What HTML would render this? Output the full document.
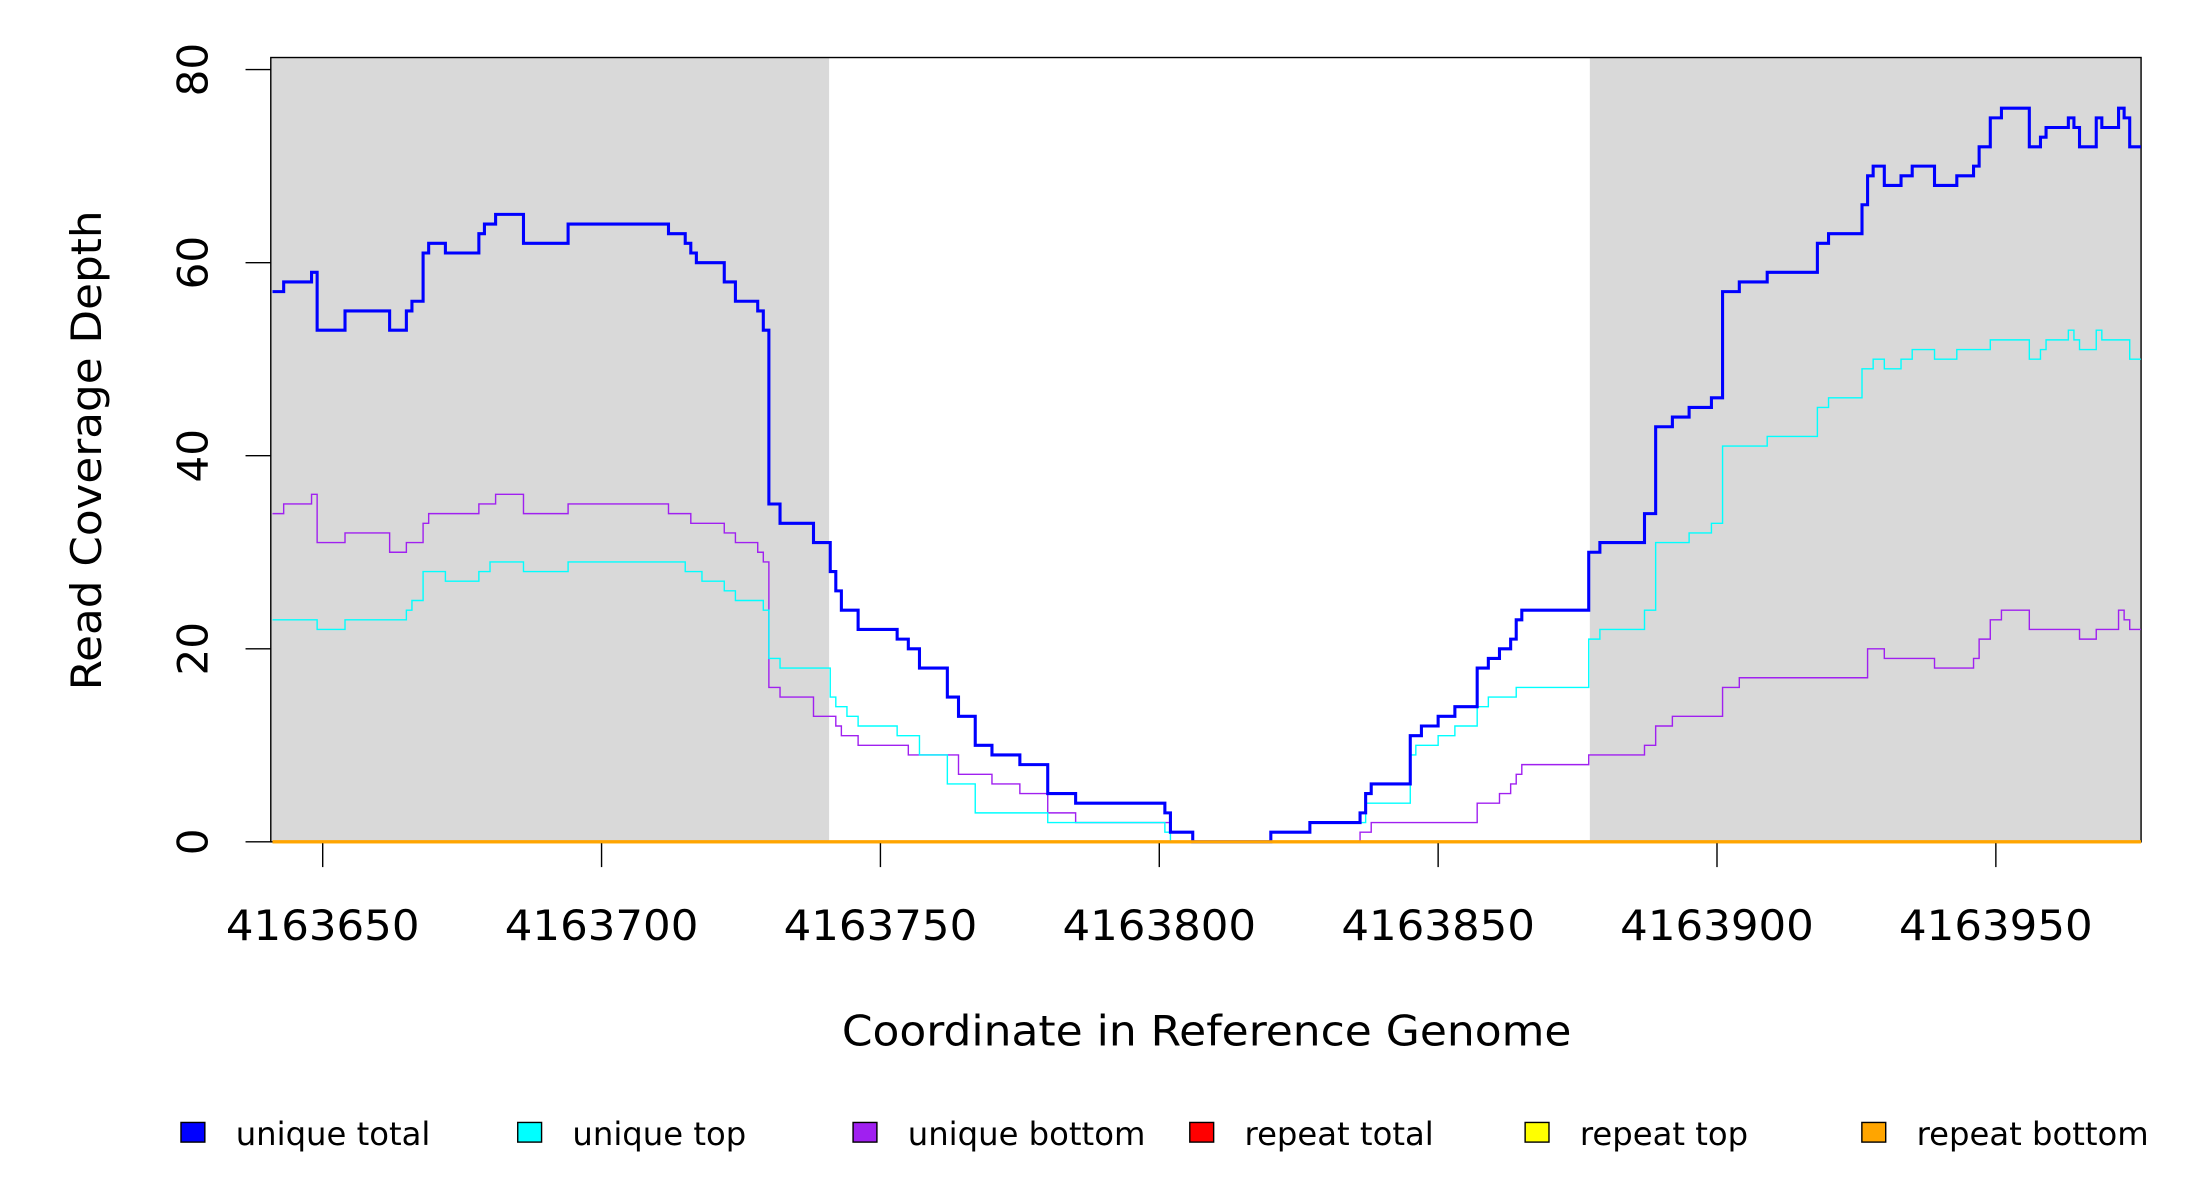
<!DOCTYPE html>
<html><head><meta charset="utf-8"><style>
html,body{margin:0;padding:0;background:#fff;}
svg{display:block;font-family:"DejaVu Sans","Liberation Sans",sans-serif;}
</style></head><body>
<svg id="chart" width="2200" height="1200" viewBox="0 0 1568 855.27" preserveAspectRatio="none" xmlns="http://www.w3.org/2000/svg">
<g id="bg"></g>
<rect x="193" y="41" width="1333" height="559" fill="none" stroke="#000" stroke-width="1"/>
<g id="series"></g>
<g id="axes"></g>
<text transform="translate(72,321) rotate(-90)" text-anchor="middle" font-size="30" textLength="342" lengthAdjust="spacingAndGlyphs">Read Coverage Depth</text>
<text x="860" y="745" text-anchor="middle" font-size="30" textLength="520" lengthAdjust="spacingAndGlyphs">Coordinate in Reference Genome</text>
<g id="legend"></g>
</svg>
<script>
const xTicks = [4163650,4163700,4163750,4163800,4163850,4163900,4163950];
const yTicks = [0,20,40,60,80];
const shaded = [[4163640.7,4163740.8],[4163877.2,4163976]];
const totalPos = [4163641,4163643,4163648,4163649,4163654,4163662,4163665,4163666,4163668,4163669,4163672,4163678,4163679,4163681,4163686,4163694,4163712,4163715,4163716,4163717,4163722,4163724,4163728,4163729,4163730,4163732,4163738,4163741,4163742,4163743,4163746,4163753,4163755,4163757,4163762,4163764,4163767,4163770,4163775,4163780,4163785,4163801,4163802,4163806,4163820,4163827,4163836,4163837,4163838,4163845,4163847,4163850,4163853,4163857,4163859,4163861,4163863,4163864,4163865,4163877,4163879,4163887,4163889,4163892,4163895,4163899,4163901,4163904,4163909,4163918,4163920,4163926,4163927,4163928,4163930,4163933,4163935,4163939,4163943,4163946,4163947,4163949,4163951,4163956,4163958,4163959,4163963,4163964,4163965,4163968,4163969,4163972,4163973,4163974];
const totalVal = [57,58,59,53,55,53,55,56,61,62,61,63,64,65,62,64,63,62,61,60,58,56,55,53,35,33,31,28,26,24,22,21,20,18,15,13,10,9,8,5,4,3,1,0,1,2,3,5,6,11,12,13,14,18,19,20,21,23,24,30,31,34,43,44,45,46,57,58,59,62,63,66,69,70,68,69,70,68,69,70,72,75,76,72,73,74,75,74,72,75,74,76,75,72];
const topPos = [4163641,4163649,4163654,4163665,4163666,4163668,4163672,4163678,4163680,4163686,4163694,4163715,4163718,4163722,4163724,4163729,4163730,4163732,4163741,4163742,4163744,4163746,4163753,4163757,4163762,4163767,4163780,4163801,4163802,4163820,4163827,4163837,4163845,4163846,4163850,4163853,4163857,4163859,4163864,4163877,4163879,4163887,4163889,4163895,4163899,4163901,4163909,4163918,4163920,4163926,4163928,4163930,4163933,4163935,4163939,4163943,4163949,4163956,4163958,4163959,4163963,4163964,4163965,4163968,4163969,4163974];
const topVal = [23,22,23,24,25,28,27,28,29,28,29,28,27,26,25,24,19,18,15,14,13,12,11,9,6,3,2,1,0,1,2,4,9,10,11,12,14,15,16,21,22,24,31,32,33,41,42,45,46,49,50,49,50,51,50,51,52,50,51,52,53,52,51,53,52,50];
const bottomPos = [4163641,4163643,4163648,4163649,4163654,4163662,4163665,4163668,4163669,4163678,4163681,4163686,4163694,4163712,4163716,4163722,4163724,4163728,4163729,4163730,4163732,4163738,4163742,4163743,4163746,4163755,4163764,4163770,4163775,4163780,4163785,4163802,4163806,4163836,4163838,4163857,4163861,4163863,4163864,4163865,4163877,4163887,4163889,4163892,4163901,4163904,4163927,4163930,4163939,4163946,4163947,4163949,4163951,4163956,4163965,4163968,4163972,4163973,4163974];
const bottomVal = [34,35,36,31,32,30,31,33,34,35,36,34,35,34,33,32,31,30,29,16,15,13,12,11,10,9,7,6,5,3,2,1,0,1,2,4,5,6,7,8,9,10,12,13,16,17,20,19,18,19,21,23,24,22,21,22,24,23,22];
const repeatPos = [4163641];
const repeatTotalVal = [0];
const repeatTopVal = [0];
const repeatBottomVal = [0];
const legendLabels = ["unique total","unique top","unique bottom","repeat total","repeat top","repeat bottom"];
const legendColors = ["#0000ff","#00ffff","#a020f0","#ff0000","#ffff00","#ffa500"];

const X0=4163650, XS=3.975, XMAX=4163976;
function sx(c){return 230+(c-X0)*XS;}
function sy(v){return 600-v*6.88;}
const NS="http://www.w3.org/2000/svg";
function mk(tag,parent,attrs){const e=document.createElementNS(NS,tag);for(const k in attrs)e.setAttribute(k,attrs[k]);parent.appendChild(e);return e;}

const bg=document.getElementById('bg');
shaded.forEach((r,i)=>{
  const e=mk('rect',bg,{x:sx(r[0]),y:41,width:sx(r[1])-sx(r[0]),height:559,fill:'#d9d9d9'});
  
  
});

const sg=document.getElementById('series');
function stepPath(pos,val){
  let d='';
  for(let i=0;i<pos.length;i++){
    const x1=sx(pos[i]), x2=sx(i+1<pos.length?pos[i+1]:XMAX), y=sy(val[i]);
    d+=(i===0?'M':'L')+x1.toFixed(2)+','+y.toFixed(2)+'L'+x2.toFixed(2)+','+y.toFixed(2);
  }
  return d;
}
const seriesDefs=[
  [repeatPos,repeatTotalVal,'#ff0000',2,'repeat-total-line'],
  [repeatPos,repeatTopVal,'#ffff00',2,'repeat-top-line'],
  [bottomPos,bottomVal,'#a020f0',1,'unique-bottom-line'],
  [topPos,topVal,'#00ffff',1,'unique-top-line'],
  [totalPos,totalVal,'#0000ff',2.2,'unique-total-line'],
  [repeatPos,repeatBottomVal,'#ffa500',2.2,'repeat-bottom-line']
];
seriesDefs.forEach(s=>{
  const p=mk('path',sg,{d:stepPath(s[0],s[1]),fill:'none',stroke:s[2],'stroke-width':s[3]});
  
  
});

const ax=document.getElementById('axes');
xTicks.forEach(t=>{
  const l=mk('line',ax,{x1:sx(t),x2:sx(t),y1:601,y2:618,stroke:'#000','stroke-width':1});
  
  
  const tx=mk('text',ax,{x:sx(t),y:670,'text-anchor':'middle','font-size':30,textLength:138,lengthAdjust:'spacingAndGlyphs'});
  tx.textContent=t;
  
  
});
yTicks.forEach(t=>{
  const l=mk('line',ax,{x1:175,x2:193,y1:sy(t),y2:sy(t),stroke:'#000','stroke-width':1});
  
  
  const tx=mk('text',ax,{transform:'translate(148,'+sy(t)+') rotate(-90)','text-anchor':'middle','font-size':30});
  tx.textContent=t;
  
  
});

const lg=document.getElementById('legend');
const legX=[129,369,608,848,1087,1327];
legendLabels.forEach((lab,i)=>{
  const g=mk('g',lg,{});
  
  
  const r=mk('rect',g,{x:legX[i],y:800,width:17,height:14,fill:legendColors[i],stroke:'#000','stroke-width':1});
  
  
  const t=mk('text',g,{x:legX[i]+39,y:816,'font-size':23});
  t.textContent=lab;
  
  
});
</script>
</body></html>
